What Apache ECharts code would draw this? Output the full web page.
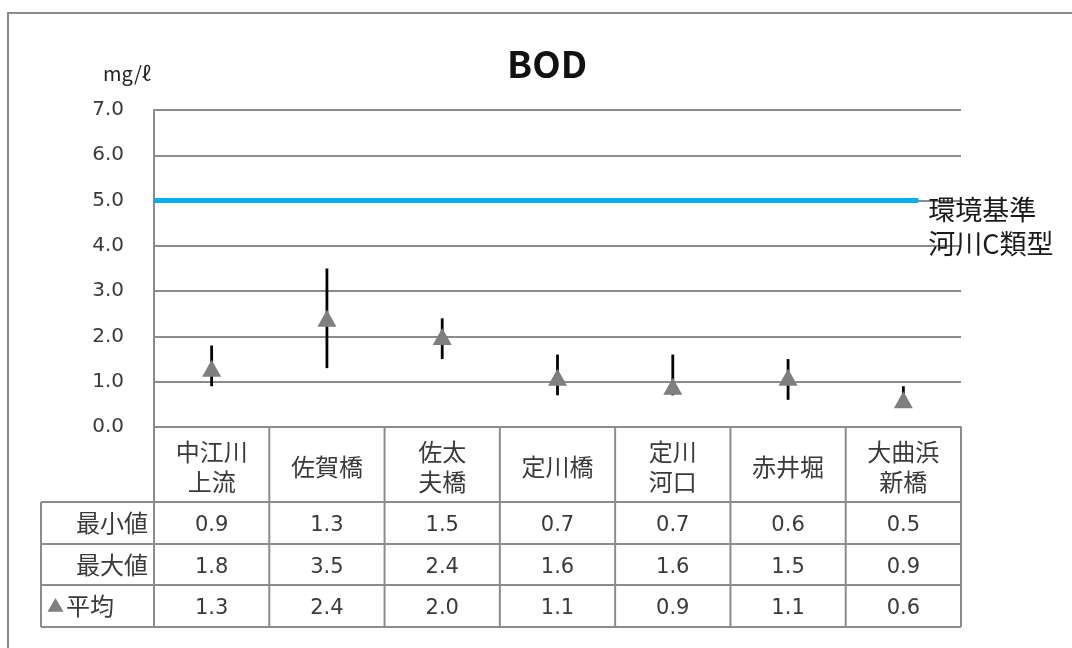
<!DOCTYPE html>
<html><head><meta charset="utf-8">
<script src="https://cdn.jsdelivr.net/npm/echarts@6/dist/echarts.min.js"></script>
<style>html,body{margin:0;padding:0;background:#fff}#c{width:1072px;height:648px}</style>
</head><body><div id="c"></div>
<script>
const categories = ['中江川\n上流', '佐賀橋', '佐太\n夫橋', '定川橋', '定川\n河口', '赤井堀', '大曲浜\n新橋'];
const minVals = [0.9, 1.3, 1.5, 0.7, 0.7, 0.6, 0.5];
const maxVals = [1.8, 3.5, 2.4, 1.6, 1.6, 1.5, 0.9];
const avgVals = [1.3, 2.4, 2.0, 1.1, 0.9, 1.1, 0.6];
const rowLabels = ['最小値', '最大値', '平均'];
const yTicks = [0, 1, 2, 3, 4, 5, 6, 7];
const standardValue = 5.0;
const standardLabel = '環境基準\n河川C類型';
const standardEnd = 6.63; // in category-width units

const FONT = '"Noto Sans CJK JP", "Noto Sans", sans-serif';
const NUMFONT = '"DejaVu Sans", "Noto Sans CJK JP", sans-serif';
const G = {left: 154, top: 110, width: 807, height: 317};
const colW = G.width / categories.length;
const tableLeft = 41;
const rowY = [427, 502, 544, 585, 627];
const lineColor = '#8c8c8c';
const textColor = '#3a3a3a';

const chart = echarts.init(document.getElementById('c'));

const graphics = [];
graphics.push({type: 'rect', shape: {x: 8, y: 13, width: 1100, height: 700}, style: {fill: null, stroke: '#8a8a8a', lineWidth: 2}, silent: true, z: 0});
graphics.push({type: 'text', x: 547, y: 64, style: {text: 'BOD', font: 'bold 37px ' + FONT, fill: '#111', align: 'center', verticalAlign: 'middle'}});
graphics.push({type: 'text', x: 127, y: 73, style: {text: 'mg/ℓ', font: '20px ' + FONT, fill: '#222', align: 'center', verticalAlign: 'middle'}});
for (let i = 1; i < rowY.length; i++) {
  graphics.push({type: 'line', shape: {x1: tableLeft, y1: rowY[i], x2: G.left + G.width, y2: rowY[i]}, style: {stroke: lineColor, lineWidth: 2}, z: 5});
}
graphics.push({type: 'line', shape: {x1: tableLeft, y1: rowY[1], x2: tableLeft, y2: rowY[4]}, style: {stroke: lineColor, lineWidth: 2}, z: 5});
for (let i = 0; i <= categories.length; i++) {
  const x = G.left + i * colW;
  graphics.push({type: 'line', shape: {x1: x, y1: rowY[0], x2: x, y2: rowY[4]}, style: {stroke: lineColor, lineWidth: 2}, z: 5});
}
graphics.push({type: 'text', x: 148, y: (rowY[1] + rowY[2]) / 2, style: {text: rowLabels[0], font: '24px ' + FONT, fill: textColor, align: 'right', verticalAlign: 'middle'}});
graphics.push({type: 'text', x: 148, y: (rowY[2] + rowY[3]) / 2, style: {text: rowLabels[1], font: '24px ' + FONT, fill: textColor, align: 'right', verticalAlign: 'middle'}});
graphics.push({type: 'text', x: 47, y: (rowY[3] + rowY[4]) / 2, style: {
  text: '{t|▲}{l|' + rowLabels[2] + '}', align: 'left', verticalAlign: 'middle',
  rich: {t: {font: '17px ' + FONT, fill: '#808080', padding: [0, 2, 0, 0]}, l: {font: '24px ' + FONT, fill: textColor}}
}});

function rowAxis(vals, idx) {
  const center = (rowY[idx] + rowY[idx + 1]) / 2;
  return {
    type: 'category', position: 'bottom', gridIndex: 0,
    data: vals.map(v => v.toFixed(1)),
    axisLine: {show: false}, axisTick: {show: false},
    axisLabel: {interval: 0, margin: center - 427 + 3, verticalAlign: 'middle', fontSize: 21, lineHeight: 24, color: textColor, fontFamily: NUMFONT}
  };
}

chart.setOption({
  animation: false,
  grid: G,
  xAxis: [
    {
      type: 'category', position: 'bottom', data: categories,
      axisLine: {show: true, lineStyle: {color: lineColor, width: 2}},
      axisTick: {show: false},
      axisLabel: {interval: 0, margin: 467 - 427, verticalAlign: 'middle', fontSize: 24, lineHeight: 30, color: textColor, fontFamily: FONT, align: 'center'}
    },
    rowAxis(minVals, 1),
    rowAxis(maxVals, 2),
    rowAxis(avgVals, 3),
    {type: 'value', position: 'top', min: 0, max: categories.length, show: false}
  ],
  yAxis: {
    type: 'value', min: yTicks[0], max: yTicks[yTicks.length - 1], interval: 1,
    axisLine: {show: true, lineStyle: {color: lineColor, width: 2}},
    axisTick: {show: false},
    splitLine: {lineStyle: {color: lineColor, width: 2}},
    axisLabel: {formatter: v => v.toFixed(1), fontSize: 20, color: textColor, fontFamily: NUMFONT, margin: 30, padding: [5, 0, 0, 0]}
  },
  series: [
    {
      type: 'custom', xAxisIndex: 0, z: 3,
      data: categories.map((c, i) => [i, minVals[i], maxVals[i]]),
      renderItem: function (params, api) {
        const p1 = api.coord([api.value(0), api.value(1)]);
        const p2 = api.coord([api.value(0), api.value(2)]);
        return {type: 'line', shape: {x1: p1[0], y1: p1[1], x2: p2[0], y2: p2[1]}, style: {stroke: '#000', lineWidth: 2.8}};
      }
    },
    {
      type: 'scatter', xAxisIndex: 0, z: 4,
      data: avgVals,
      symbol: 'triangle', symbolSize: [19, 17],
      itemStyle: {color: '#7f7f7f', opacity: 1}
    },
    {
      type: 'line', xAxisIndex: 4, z: 2,
      data: [[0, standardValue], [standardEnd, standardValue]],
      symbol: 'none',
      lineStyle: {color: '#00b0f0', width: 5},
      endLabel: {show: true, formatter: standardLabel, fontSize: 27, lineHeight: 34, color: '#1a1a1a', fontFamily: FONT, distance: 10, offset: [0, 26]}
    }
  ],
  graphic: graphics
});
</script></body></html>
